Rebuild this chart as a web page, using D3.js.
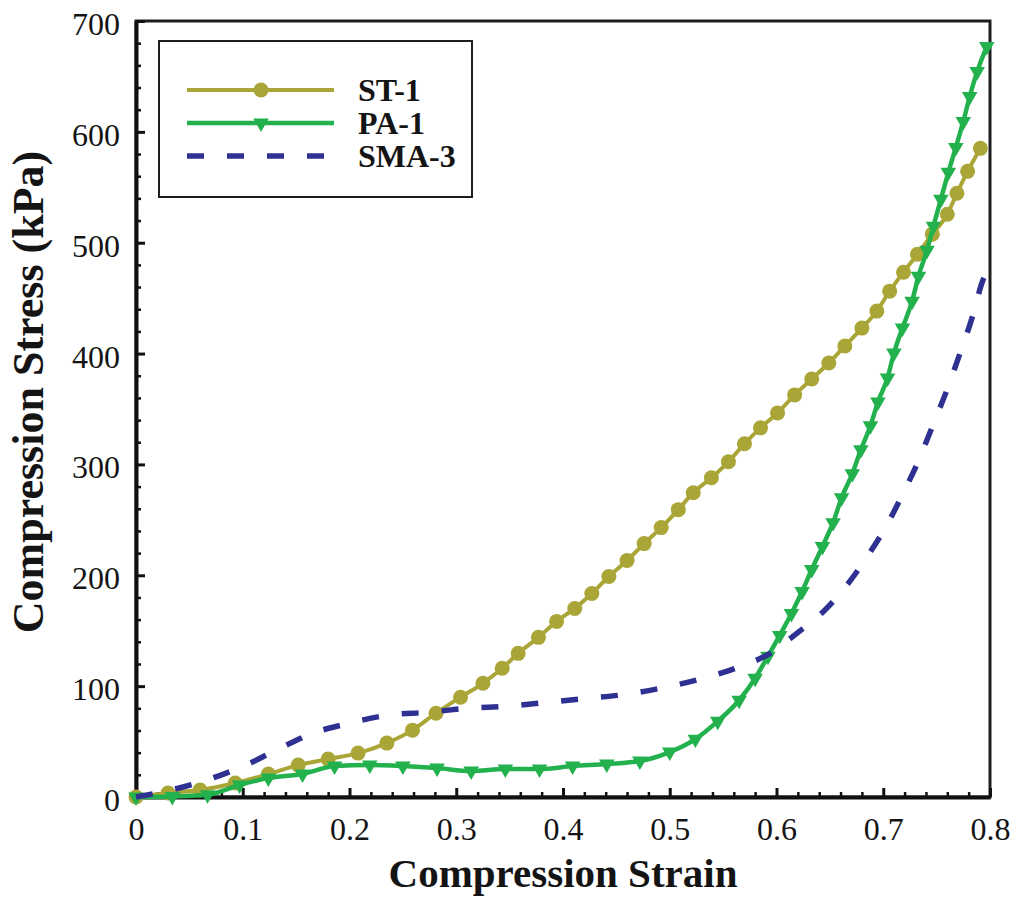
<!DOCTYPE html>
<html>
<head>
<meta charset="utf-8">
<script src="https://cdn.jsdelivr.net/npm/d3@7"></script>
<style>
  html, body { margin: 0; padding: 0; background: #ffffff; }
  svg { display: block; }
  text { font-family: "Liberation Serif", "Times New Roman", "DejaVu Serif", serif; fill: #141414; }
</style>
</head>
<body>
<svg id="chart" width="1014" height="898"></svg>
<script>
// ---------------- DATA ----------------
const seriesNames = ["ST-1", "PA-1", "SMA-3"];

const st1Strain = [0, 0.030, 0.060, 0.093, 0.124, 0.152, 0.180, 0.208, 0.235, 0.259, 0.281, 0.304, 0.325, 0.343, 0.358, 0.377, 0.394, 0.411, 0.427, 0.443, 0.460, 0.476, 0.492, 0.508, 0.522, 0.539, 0.555, 0.570, 0.585, 0.601, 0.617, 0.633, 0.649, 0.664, 0.680, 0.694, 0.706, 0.719, 0.732, 0.746, 0.760, 0.769, 0.779, 0.791];
const st1Stress = [0, 3.6, 6.3, 12.6, 20.7, 28.8, 34.2, 39.6, 48.6, 60.3, 75.6, 90.0, 102.6, 116.1, 129.6, 144.0, 158.4, 170.1, 183.6, 198.9, 213.3, 228.6, 243.0, 259.2, 274.5, 288.0, 302.4, 318.6, 333.0, 346.5, 362.7, 377.1, 391.5, 406.8, 423.0, 438.3, 456.3, 473.4, 489.6, 507.7, 525.7, 544.6, 564.4, 585.1];

const pa1Strain = [0, 0.034, 0.067, 0.097, 0.124, 0.156, 0.186, 0.219, 0.250, 0.282, 0.314, 0.346, 0.378, 0.409, 0.441, 0.472, 0.500, 0.524, 0.545, 0.565, 0.580, 0.592, 0.603, 0.614, 0.624, 0.633, 0.643, 0.653, 0.661, 0.671, 0.679, 0.688, 0.695, 0.704, 0.710, 0.718, 0.727, 0.733, 0.741, 0.747, 0.754, 0.761, 0.768, 0.775, 0.781, 0.788, 0.797];
const pa1Stress = [0, 0.5, 2.0, 10.8, 17.1, 20.7, 27.9, 28.8, 27.9, 26.1, 23.4, 25.2, 25.2, 27.9, 29.7, 32.4, 40.5, 52.2, 68.4, 87.3, 107.1, 126.9, 145.8, 165.6, 185.4, 205.2, 225.9, 247.5, 270.0, 291.6, 313.2, 334.8, 356.4, 378.0, 400.5, 423.0, 447.3, 469.8, 493.2, 514.9, 539.2, 563.5, 586.0, 609.4, 631.9, 654.4, 676.9];

const sma3Strain = [0, 0.044, 0.077, 0.107, 0.135, 0.166, 0.200, 0.236, 0.274, 0.311, 0.348, 0.386, 0.423, 0.460, 0.496, 0.528, 0.564, 0.594, 0.619, 0.644, 0.665, 0.685, 0.702, 0.718, 0.733, 0.747, 0.760, 0.772, 0.784, 0.793, 0.800];
const sma3Stress = [0, 9.0, 18.9, 30.6, 44.1, 57.6, 66.6, 73.8, 76.5, 80.1, 81.9, 85.5, 89.1, 92.7, 99.0, 106.2, 117.0, 129.6, 147.6, 167.4, 189.9, 216.9, 243.0, 272.7, 303.3, 336.6, 368.1, 400.5, 434.7, 465.3, 478.0];

const xTickValues = [0, 0.1, 0.2, 0.3, 0.4, 0.5, 0.6, 0.7, 0.8];
const xTickLabels = ["0", "0.1", "0.2", "0.3", "0.4", "0.5", "0.6", "0.7", "0.8"];
const yTickValues = [0, 100, 200, 300, 400, 500, 600, 700];
const yTickLabels = ["0", "100", "200", "300", "400", "500", "600", "700"];

const xTitle = "Compression Strain";
const yTitle = "Compression Stress (kPa)";

// ---------------- LAYOUT ----------------
const colors = { "ST-1": "#a9a637", "PA-1": "#22b14c", "SMA-3": "#2e3192" };
const pLeft = 136, pRight = 990, pTop = 21, pBottom = 797;
const serif = '"Liberation Serif", "Times New Roman", "DejaVu Serif", serif';

const svg = d3.select("#chart");
const x = d3.scaleLinear().domain([0, 0.8]).range([pLeft, pRight]);
const y = d3.scaleLinear().domain([0, 700]).range([pBottom, pTop]);

// frame
svg.append("rect")
  .attr("x", pLeft).attr("y", pTop)
  .attr("width", pRight - pLeft).attr("height", pBottom - pTop)
  .attr("fill", "none").attr("stroke", "#1e1e1e").attr("stroke-width", 3);

// minor ticks
const xMinor = d3.range(0, 0.8001, 0.02).filter(v => Math.abs(Math.round(v * 10) - v * 10) > 1e-6);
const yMinor = d3.range(0, 700.01, 20).filter(v => v % 100 !== 0);

const gx = svg.append("g").attr("transform", `translate(0,${pBottom})`);
gx.call(d3.axisBottom(x).tickValues(xMinor).tickSize(-5).tickSizeOuter(0).tickFormat(""));
gx.selectAll(".domain").remove();
gx.selectAll("line").attr("stroke", "#111").attr("stroke-width", 2.5);

const gxM = svg.append("g").attr("transform", `translate(0,${pBottom})`);
gxM.call(d3.axisBottom(x).tickValues(xTickValues).tickSize(-9).tickSizeOuter(0).tickPadding(20)
  .tickFormat((d, i) => xTickLabels[i]));
gxM.attr("font-family", serif);
gxM.select(".domain").attr("stroke", "#111").attr("stroke-width", 4);
gxM.selectAll("line").attr("stroke", "#111").attr("stroke-width", 3);
gxM.selectAll("text").attr("font-size", 32).attr("fill", "#141414")
  .style("font-family", serif);

const gy = svg.append("g").attr("transform", `translate(${pLeft},0)`);
gy.call(d3.axisLeft(y).tickValues(yMinor).tickSize(-5).tickSizeOuter(0).tickFormat(""));
gy.selectAll(".domain").remove();
gy.selectAll("line").attr("stroke", "#111").attr("stroke-width", 2.5);

const gyM = svg.append("g").attr("transform", `translate(${pLeft},0)`);
gyM.call(d3.axisLeft(y).tickValues(yTickValues).tickSize(-9).tickSizeOuter(0).tickPadding(16)
  .tickFormat((d, i) => yTickLabels[i]));
gyM.attr("font-family", serif);
gyM.select(".domain").attr("stroke", "#111").attr("stroke-width", 4);
gyM.selectAll("line").attr("stroke", "#111").attr("stroke-width", 3);
gyM.selectAll("text").attr("font-size", 32).attr("dy", "0.42em").attr("fill", "#141414")
  .style("font-family", serif);

// axis titles
svg.append("text")
  .attr("x", 563).attr("y", 887)
  .attr("text-anchor", "middle")
  .attr("font-size", 41).attr("font-weight", "bold")
  .text(xTitle);

svg.append("text")
  .attr("transform", "translate(43,392) rotate(-90)")
  .attr("text-anchor", "middle")
  .attr("font-size", 44).attr("font-weight", "bold")
  .text(yTitle);

// ---------------- SERIES ----------------
const line = d3.line().x(d => x(d[0])).y(d => y(d[1])).curve(d3.curveMonotoneX);

const st1 = st1Strain.map((v, i) => [v, st1Stress[i]]);
const pa1 = pa1Strain.map((v, i) => [v, pa1Stress[i]]);
const sma3 = sma3Strain.map((v, i) => [v, sma3Stress[i]]);

const triangle = d3.symbol().type(d3.symbolTriangle).size(105);

// ST-1
svg.append("path").datum(st1)
  .attr("d", line).attr("fill", "none")
  .attr("stroke", colors["ST-1"]).attr("stroke-width", 4);
svg.append("g").selectAll("circle").data(st1).join("circle")
  .attr("cx", d => x(d[0])).attr("cy", d => y(d[1])).attr("r", 7.5)
  .attr("fill", colors["ST-1"]);

// PA-1
svg.append("path").datum(pa1)
  .attr("d", line).attr("fill", "none")
  .attr("stroke", colors["PA-1"]).attr("stroke-width", 4.5);
svg.append("g").selectAll("path").data(pa1).join("path")
  .attr("d", triangle)
  .attr("transform", d => `translate(${x(d[0])},${y(d[1])}) rotate(180)`)
  .attr("fill", colors["PA-1"]);

// SMA-3
svg.append("path").datum(sma3)
  .attr("d", line).attr("fill", "none")
  .attr("stroke", colors["SMA-3"]).attr("stroke-width", 5.5)
  .attr("stroke-dasharray", "17,23");

// ---------------- LEGEND ----------------
const lg = svg.append("g");
lg.append("rect")
  .attr("x", 159).attr("y", 41).attr("width", 313).attr("height", 156)
  .attr("fill", "#ffffff").attr("stroke", "#1e1e1e").attr("stroke-width", 2);

const legendRows = [90, 123, 156];
seriesNames.forEach((name, i) => {
  const yy = legendRows[i];
  const l = lg.append("line")
    .attr("x1", 187).attr("x2", 334).attr("y1", yy).attr("y2", yy)
    .attr("stroke", colors[name]);
  if (name === "SMA-3") {
    l.attr("stroke-width", 5.5).attr("stroke-dasharray", "17,23");
  } else {
    l.attr("stroke-width", name === "PA-1" ? 4.5 : 4);
  }
  if (name === "ST-1") {
    lg.append("circle").attr("cx", 261).attr("cy", yy).attr("r", 7.5).attr("fill", colors[name]);
  } else if (name === "PA-1") {
    lg.append("path").attr("d", triangle)
      .attr("transform", `translate(261,${yy}) rotate(180)`)
      .attr("fill", colors[name]);
  }
  lg.append("text")
    .attr("x", 358).attr("y", yy + 11)
    .attr("font-size", 32).attr("font-weight", "bold")
    .text(name);
});
</script>
</body>
</html>
